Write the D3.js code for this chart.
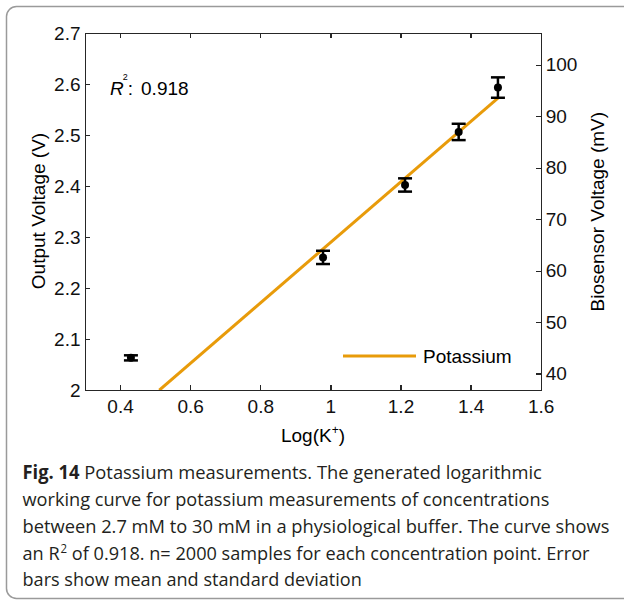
<!DOCTYPE html>
<html lang="en">
<head>
  <meta charset="UTF-8">
  <title>Potassium measurements</title>
  <style>
    body {
      margin: 0;
      background: #fff;
    }
    svg {
      display: block;
      font-family: "Liberation Sans", Arial, sans-serif;
    }
    .axis path, .axis line {
      fill: none;
      stroke: #262626;
      stroke-width: 1.3;
      shape-rendering: crispEdges;
    }
    .axis text {
      font-size: 19px;
      fill: #111;
    }
    .caption {
      font-family: "Open Sans", "Noto Sans", sans-serif;
      font-size: 19px;
      fill: #231f20;
    }
  </style>
  <script src="https://d3js.org/d3.v7.min.js"></script>
</head>
<body>

<svg id="chart"></svg>

<script>
  // Data
  const logK = [0.431, 0.979, 1.213, 1.366, 1.478];
  const meanV = [2.063, 2.260, 2.402, 2.506, 2.593];
  const sdV = [0.005, 0.013, 0.013, 0.016, 0.020];

  // linear fit shown in orange
  const fitSlope = 0.593;
  const fitIntercept = 1.696;
  const fitLogK = [0.512, 1.478];

  const xTicks = [0.4, 0.6, 0.8, 1.0, 1.2, 1.4, 1.6];
  const yTicksV = [2.0, 2.1, 2.2, 2.3, 2.4, 2.5, 2.6, 2.7];
  const yTicksMV = [40, 50, 60, 70, 80, 90, 100];

  const captionLines = [
    "Potassium measurements. The generated logarithmic",
    "working curve for potassium measurements of concentrations",
    "between 2.7 mM to 30 mM in a physiological buffer. The curve shows",
    " of 0.918. n= 2000 samples for each concentration point. Error",
    "bars show mean and standard deviation"
  ];

  const W = 624, H = 602;
  const plot = {left: 85, right: 540.7, top: 33, bottom: 390};
  const orange = "#e89b0a";

  const svg = d3.select("#chart")
    .attr("width", W)
    .attr("height", H);

  // outer frame
  svg.append("rect")
    .attr("x", 6.5).attr("y", 6.5)
    .attr("width", 640).attr("height", 592)
    .attr("rx", 10)
    .attr("fill", "none")
    .attr("stroke", "#9a9a9a")
    .attr("stroke-width", 1.5);

  const x = d3.scaleLinear().domain([0.3, 1.6]).range([plot.left, plot.right]);
  const y = d3.scaleLinear().domain([2.0, 2.7]).range([plot.bottom, plot.top]);
  const yR = d3.scaleLinear().domain([36.8, 106.2]).range([plot.bottom, plot.top]);

  const fmt = d3.format("~g");

  // axes, MATLAB style ticks pointing inward
  svg.append("g")
    .attr("class", "axis")
    .attr("transform", `translate(0,${plot.bottom})`)
    .call(d3.axisBottom(x).tickValues(xTicks).tickFormat(fmt)
      .tickSizeInner(-5).tickSizeOuter(0).tickPadding(10));

  svg.append("g")
    .attr("class", "axis")
    .attr("transform", `translate(0,${plot.top})`)
    .call(d3.axisTop(x).tickValues(xTicks).tickFormat("")
      .tickSizeInner(-5).tickSizeOuter(0));

  svg.append("g")
    .attr("class", "axis")
    .attr("transform", `translate(${plot.left},0)`)
    .call(d3.axisLeft(y).tickValues(yTicksV).tickFormat(fmt)
      .tickSizeInner(-5).tickSizeOuter(0).tickPadding(4.5));

  svg.append("g")
    .attr("class", "axis")
    .attr("transform", `translate(${plot.right},0)`)
    .call(d3.axisRight(yR).tickValues(yTicksMV).tickFormat(fmt)
      .tickSizeInner(-5).tickSizeOuter(0).tickPadding(5));

  // clip for the fit line
  svg.append("clipPath").attr("id", "clip")
    .append("rect")
    .attr("x", plot.left).attr("y", plot.top)
    .attr("width", plot.right - plot.left)
    .attr("height", plot.bottom - plot.top);

  const fitData = fitLogK.map(k => ({k, v: fitIntercept + fitSlope * k}));
  svg.append("path")
    .datum(fitData)
    .attr("clip-path", "url(#clip)")
    .attr("fill", "none")
    .attr("stroke", orange)
    .attr("stroke-width", 3)
    .attr("d", d3.line().x(d => x(d.k)).y(d => y(d.v)));

  // error bars + means
  const pts = logK.map((k, i) => ({k, m: meanV[i], s: sdV[i]}));
  const capW = 7;
  const eb = svg.append("g")
    .attr("stroke", "#000")
    .attr("stroke-width", 2.5)
    .attr("fill", "none");

  eb.selectAll(".stem")
    .data(pts).join("line")
    .attr("x1", d => x(d.k)).attr("x2", d => x(d.k))
    .attr("y1", d => y(d.m - d.s)).attr("y2", d => y(d.m + d.s));
  eb.selectAll(".capTop")
    .data(pts).join("line")
    .attr("x1", d => x(d.k) - capW).attr("x2", d => x(d.k) + capW)
    .attr("y1", d => y(d.m + d.s)).attr("y2", d => y(d.m + d.s));
  eb.selectAll(".capBot")
    .data(pts).join("line")
    .attr("x1", d => x(d.k) - capW).attr("x2", d => x(d.k) + capW)
    .attr("y1", d => y(d.m - d.s)).attr("y2", d => y(d.m - d.s));

  svg.append("g")
    .selectAll("circle")
    .data(pts).join("circle")
    .attr("cx", d => x(d.k))
    .attr("cy", d => y(d.m))
    .attr("r", 4)
    .attr("fill", "#000");

  // legend
  svg.append("line")
    .attr("x1", 343).attr("x2", 416)
    .attr("y1", 356).attr("y2", 356)
    .attr("stroke", orange).attr("stroke-width", 3);
  svg.append("text")
    .attr("x", 423).attr("y", 362.5)
    .attr("font-size", 19)
    .text("Potassium");

  // R^2 annotation, one text so the superscript sits inside it
  const r2 = svg.append("text")
    .attr("x", 110).attr("y", 95)
    .attr("font-size", 19);
  r2.append("tspan").attr("font-style", "italic").text("R");
  r2.append("tspan").attr("font-size", 9).attr("dx", -1).attr("dy", -15).text("2");
  r2.append("tspan").attr("dy", 15).text(":");
  r2.append("tspan").attr("dx", 8).text("0.918");

  // axis titles
  const xt = svg.append("text")
    .attr("x", 313).attr("y", 441.7)
    .attr("text-anchor", "middle")
    .attr("font-size", 19);
  xt.append("tspan").text("Log(K");
  xt.append("tspan").attr("font-size", 12).attr("dy", -8).text("+");
  xt.append("tspan").attr("dy", 8).text(")");

  svg.append("text")
    .attr("transform", "translate(45,211) rotate(-90)")
    .attr("text-anchor", "middle")
    .attr("font-size", 19)
    .text("Output Voltage (V)");

  svg.append("text")
    .attr("transform", "translate(604,211.7) rotate(-90)")
    .attr("text-anchor", "middle")
    .attr("font-size", 19)
    .text("Biosensor Voltage (mV)");

  // caption, squeezed horizontally to the width of each printed line
  const capX = 22.5;
  const capBase = [479, 506, 533, 559.5, 586];
  const capWidth = [519.6, 527.3, 587.3, 566.6, 339.6];
  captionLines.forEach((line, i) => {
    const t = svg.append("text")
      .attr("class", "caption")
      .attr("x", 0)
      .attr("y", 0);
    if (i === 0) {
      t.append("tspan").attr("font-weight", "bold").text("Fig. 14");
      t.append("tspan").text(" " + line);
    } else if (i === 3) {
      t.append("tspan").text("an R");
      t.append("tspan").attr("font-size", 12).attr("dx", 1).attr("dy", -7).text("2");
      t.append("tspan").attr("dy", 7).text(line);
    } else {
      t.text(line);
    }
    const natural = t.node().getComputedTextLength();
    const sx = capWidth[i] / natural;
    t.attr("transform", `translate(${capX},${capBase[i]}) scale(${sx},1)`);
  });
</script>

</body>
</html>
